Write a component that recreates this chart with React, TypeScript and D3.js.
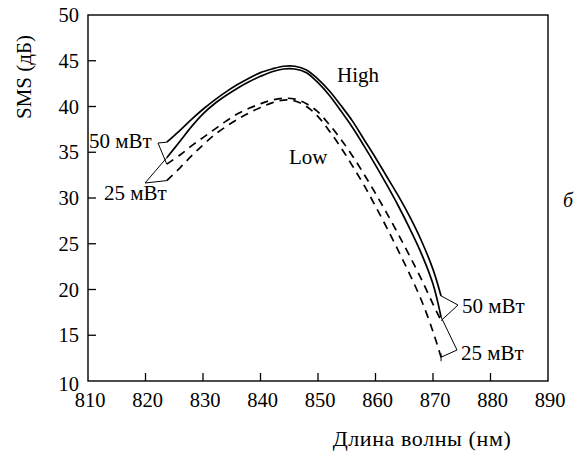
import React, { useEffect, useRef } from 'react';
import * as d3 from 'd3';

// wavelength grid (nm) shared by all four curves
const wavelengths = [823.7, 826, 828, 830, 832, 834, 836, 838, 840, 842, 844, 846, 848, 850, 852, 854, 856, 858, 860, 862, 864, 866, 868, 870, 871.4];

const high50 = [36.1, 37.4, 38.6, 39.7, 40.7, 41.6, 42.4, 43.1, 43.7, 44.1, 44.4, 44.4, 44.0, 43.0, 41.7, 40.1, 38.4, 36.4, 34.4, 32.3, 30.2, 27.9, 25.3, 22.2, 19.3];
const high25 = [34.4, 36.2, 37.8, 39.2, 40.3, 41.2, 42.0, 42.7, 43.3, 43.8, 44.1, 44.1, 43.7, 42.6, 41.2, 39.5, 37.7, 35.7, 33.6, 31.4, 29.1, 26.6, 23.9, 20.6, 17.0];
const low50 = [33.7, 34.7, 35.7, 36.6, 37.5, 38.4, 39.2, 39.8, 40.3, 40.7, 40.9, 40.8, 40.3, 39.4, 38.0, 36.4, 34.6, 32.6, 30.5, 28.3, 26.0, 23.6, 21.1, 18.4, 16.6];
const low25 = [31.9, 33.3, 34.6, 35.8, 36.9, 37.8, 38.6, 39.3, 39.9, 40.4, 40.7, 40.6, 40.0, 38.9, 37.3, 35.5, 33.5, 31.4, 29.1, 26.7, 24.2, 21.6, 18.8, 15.4, 12.6];

const xTicks = [810, 820, 830, 840, 850, 860, 870, 880, 890];
const yTicks = [10, 15, 20, 25, 30, 35, 40, 45, 50];

const FONT = '"Liberation Serif", "Times New Roman", serif';

const App = () => {
  const svgRef = useRef(null);

  useEffect(() => {
    const svg = d3.select(svgRef.current);
    svg.selectAll('*').remove();

    const x = d3.scaleLinear().domain([810, 890]).range([88, 548]);
    const y = d3.scaleLinear().domain([10, 50]).range([381, 15]);

    // frame
    svg
      .append('rect')
      .attr('x', x(810))
      .attr('y', y(50))
      .attr('width', x(890) - x(810))
      .attr('height', y(10) - y(50))
      .attr('fill', 'none')
      .attr('stroke', '#000')
      .attr('stroke-width', 1.4);

    // inward ticks
    svg
      .selectAll('.xt')
      .data(xTicks.slice(1, -1))
      .enter()
      .append('line')
      .attr('x1', (d) => x(d))
      .attr('x2', (d) => x(d))
      .attr('y1', y(10))
      .attr('y2', y(10) - 8)
      .attr('stroke', '#000')
      .attr('stroke-width', 1.3);
    svg
      .selectAll('.yt')
      .data(yTicks.slice(1, -1))
      .enter()
      .append('line')
      .attr('x1', x(810))
      .attr('x2', x(810) + 8)
      .attr('y1', (d) => y(d))
      .attr('y2', (d) => y(d))
      .attr('stroke', '#000')
      .attr('stroke-width', 1.3);

    svg
      .selectAll('.xl')
      .data(xTicks)
      .enter()
      .append('text')
      .attr('x', (d) => x(d) + 2)
      .attr('y', 407)
      .attr('text-anchor', 'middle')
      .style('font-family', FONT)
      .style('font-size', '20.5px')
      .text((d) => d);
    svg
      .selectAll('.yl')
      .data(yTicks)
      .enter()
      .append('text')
      .attr('x', 79)
      .attr('y', (d) => y(d) + (d === 10 ? 10 : 7))
      .attr('text-anchor', 'end')
      .style('font-family', FONT)
      .style('font-size', '20.5px')
      .text((d) => d);

    svg
      .append('text')
      .attr('x', 422)
      .attr('y', 446)
      .attr('text-anchor', 'middle')
      .style('font-family', FONT)
      .style('font-size', '22px')
      .style('letter-spacing', '0.6px')
      .text('Длина волны (нм)');
    svg
      .append('text')
      .attr('transform', 'translate(31,77) rotate(-90)')
      .attr('text-anchor', 'middle')
      .style('font-family', FONT)
      .style('font-size', '21px')
      .text('SMS (дБ)');

    const line = d3
      .line()
      .x((d) => x(d[0]))
      .y((d) => y(d[1]))
      .curve(d3.curveCatmullRom);

    const series = [
      { v: high50, dash: null },
      { v: high25, dash: null },
      { v: low50, dash: '8,6' },
      { v: low25, dash: '8,6' }
    ];
    series.forEach((s) => {
      svg
        .append('path')
        .datum(wavelengths.map((w, i) => [w, s.v[i]]))
        .attr('d', line)
        .attr('fill', 'none')
        .attr('stroke', '#000')
        .attr('stroke-width', 1.7)
        .attr('stroke-dasharray', s.dash);
    });

    const first = 0;
    const last = wavelengths.length - 1;
    const pt = (arr, i) => [x(wavelengths[i]), y(arr[i])];

    // brackets joining the curve ends to their power labels
    const bracket = (a, v, b) =>
      svg
        .append('polyline')
        .attr('points', [a, v, b].map((p) => p.join(',')).join(' '))
        .attr('fill', 'none')
        .attr('stroke', '#000')
        .attr('stroke-width', 1);

    bracket(pt(high50, first), [158, 143], pt(low50, first));
    bracket(pt(high25, first), [145, 183], pt(low25, first));
    bracket(pt(high50, last), [458, 305], pt(low50, last));
    bracket(pt(high25, last), [457, 350], pt(low25, last));
    const e = pt(low25, last);
    svg
      .append('line')
      .attr('x1', e[0])
      .attr('x2', e[0])
      .attr('y1', e[1] - 4)
      .attr('y2', e[1] + 4)
      .attr('stroke', '#000')
      .attr('stroke-width', 1);

    const labels = [
      { t: '50 мВт', x: 89, y: 148 },
      { t: '25 мВт', x: 104, y: 200 },
      { t: '50 мВт', x: 462, y: 313 },
      { t: '25 мВт', x: 461, y: 360 },
      { t: 'High', x: 337, y: 82 },
      { t: 'Low', x: 289, y: 164 }
    ];
    svg
      .selectAll('.lab')
      .data(labels)
      .enter()
      .append('text')
      .attr('x', (d) => d.x)
      .attr('y', (d) => d.y)
      .style('font-family', FONT)
      .style('font-size', '21px')
      .text((d) => d.t);

    svg
      .append('text')
      .attr('x', 563)
      .attr('y', 207)
      .style('font-family', FONT)
      .style('font-size', '20px')
      .style('font-style', 'italic')
      .text('б');
  }, []);

  return (
    <svg
      ref={svgRef}
      width={577}
      height={452}
      style={{ position: 'absolute', left: 0, top: 0, background: '#fff' }}
    ></svg>
  );
};

export default App;
